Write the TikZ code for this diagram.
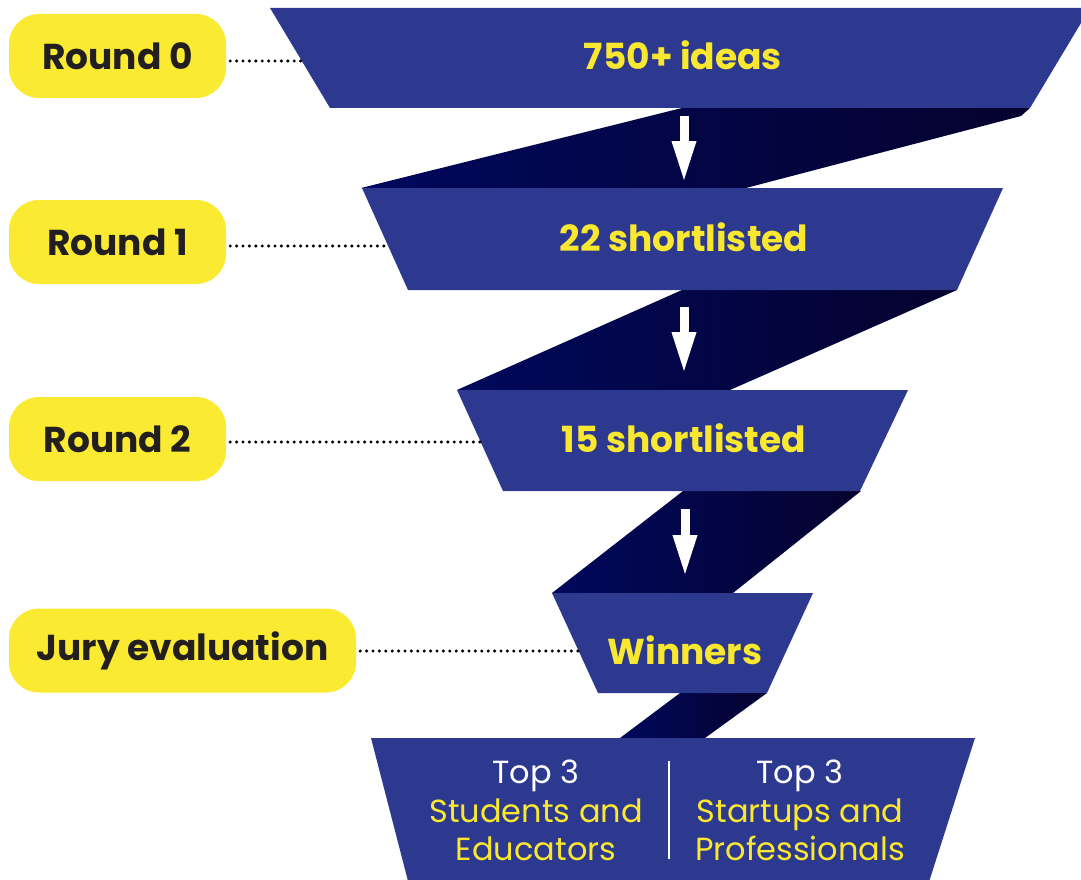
\documentclass[tikz,border=0pt]{standalone}
\usepackage{fontspec}
\setmainfont{Poppins}
\usetikzlibrary{arrows.meta}
\definecolor{navy}{RGB}{45,57,143}
\definecolor{pillyellow}{RGB}{250,235,50}
\definecolor{txtyellow}{RGB}{250,232,48}
\definecolor{pilltext}{RGB}{35,31,32}
\definecolor{bandL}{RGB}{0,8,92}
\definecolor{bandR}{RGB}{5,2,46}
\begin{document}
\begin{tikzpicture}[x=1pt,y=-1pt,
  trap/.style={fill=navy},
  band/.style={left color=bandL, right color=bandR},
  pill/.style={fill=pillyellow, rounded corners=30pt, minimum height=84pt, inner sep=0pt,
    text=pilltext, font=\bfseries\fontsize{36}{40}\selectfont},
  bigtxt/.style={text=txtyellow, font=\bfseries\fontsize{36}{40}\selectfont, inner sep=0pt, anchor=base},
  smalltxt/.style={font=\fontsize{32}{36}\selectfont, inner sep=0pt, anchor=base},
  dotline/.style={black, line width=3.4pt, line cap=round, dash pattern=on 0pt off 6.4pt},
  downarrow/.style={white, line width=9pt, -{Triangle[length=42pt,width=22pt]}}
]
\useasboundingbox (0,0) rectangle (1081,880);
\clip (0,0) rectangle (1081,880);

% dark connecting bands
\shade[band] (682,108) -- (1030,108) -- (1021,116) -- (746,188) -- (361,188) -- cycle;
\shade[band] (682,290) -- (957,290) -- (730,390) -- (457,390) -- cycle;
\shade[band] (683,491) -- (861,491) -- (733,593) -- (552,593) -- cycle;
\shade[band] (680,693) -- (767,693) -- (705,738) -- (620,738) -- cycle;

% funnel trapezoids
\fill[trap] (270,8) -- (1090,8) -- (1030,108) -- (330,108) -- cycle;
\fill[trap] (362,188) -- (1003,188) -- (957,290) -- (408,290) -- cycle;
\fill[trap] (457,390) -- (908,390) -- (860,491) -- (503,491) -- cycle;
\fill[trap] (552,593) -- (813,593) -- (767,693) -- (598,693) -- cycle;
\fill[trap] (371,738) -- (975,738) -- (928,885) -- (409,885) -- cycle;

% funnel texts
\node[bigtxt] (t0) at (683,70) {750+ ideas};
\node[bigtxt] (t1) at (684,251) {22 shortlisted};
\node[bigtxt] (t2) at (684,452) {15 shortlisted};
\node[bigtxt] (t3) at (685,664) {Winners};

% arrows
\coordinate (a0s) at (684,116); \coordinate (a0e) at (684,183);
\coordinate (a1s) at (684,307); \coordinate (a1e) at (684,374);
\coordinate (a2s) at (685,509); \coordinate (a2e) at (685,577);
\draw[downarrow] (a0s) -- (a0e);
\draw[downarrow] (a1s) -- (a1e);
\draw[downarrow] (a2s) -- (a2e);

% bottom box
\node[smalltxt, white] (l1) at (536,783) {Top 3};
\node[smalltxt, txtyellow] (l2) at (536,822) {Students and};
\node[smalltxt, txtyellow] (l3) at (536,860) {Educators};
\node[smalltxt, white] (r1) at (800,783) {Top 3};
\node[smalltxt, txtyellow] (r2) at (800,822) {Startups and};
\node[smalltxt, txtyellow] (r3) at (800,860) {Professionals};
\coordinate (dv1) at (669,761); \coordinate (dv2) at (669,859);
\draw[white, line width=2pt] (dv1) -- (dv2);

% pills
\node[pill, minimum width=217pt] (p0) at (117.5,56) {Round 0};
\node[pill, minimum width=217pt] (p1) at (117.5,242) {Round 1};
\node[pill, minimum width=217pt] (p2) at (117.5,439) {Round 2};
\node[pill, minimum width=347pt] (p3) at (182.5,650.5) {Jury evaluation};

% dotted leaders
\coordinate (e0) at (301,61);
\coordinate (e1) at (388,246);
\coordinate (e2) at (480,442);
\coordinate (e3) at (579,651);
\draw[dotline] ([xshift=4pt]p0.east |- e0) -- (e0);
\draw[dotline] ([xshift=4pt]p1.east |- e1) -- (e1);
\draw[dotline] ([xshift=4pt]p2.east |- e2) -- (e2);
\draw[dotline] ([xshift=4pt]p3.east |- e3) -- (e3);
\end{tikzpicture}
\end{document}
